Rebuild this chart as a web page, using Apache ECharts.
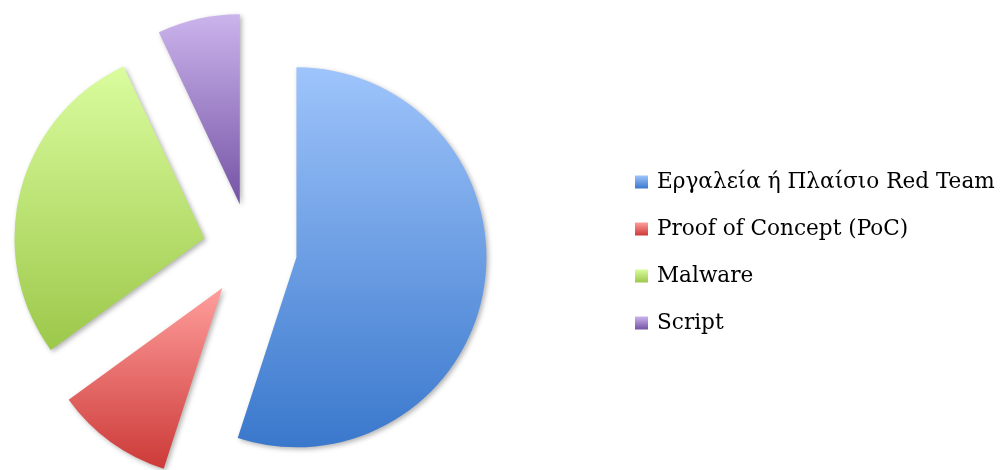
<!DOCTYPE html>
<html>
<head>
<meta charset="utf-8">
<script src="https://cdn.jsdelivr.net/npm/echarts@6/dist/echarts.min.js"></script>
<style>
  html, body { margin: 0; padding: 0; background: #fff; }
  #chart { width: 1001px; height: 470px; }
</style>
</head>
<body>
<div id="chart"></div>
<script>
const categories = ["Εργαλεία ή Πλαίσιο Red Team", "Proof of Concept (PoC)", "Malware", "Script"];
const values = [55, 10, 28, 7];
// top / bottom gradient colours per slice
const topColors = ["#9ec4fb", "#ff9e9c", "#dafc9e", "#cbb4ec"];
const bottomColors = ["#3a78cc", "#cc3a38", "#9cc84a", "#7553a5"];

const chart = echarts.init(document.getElementById("chart"), null, { renderer: "canvas" });

const grad = (i) => new echarts.graphic.LinearGradient(0, 0, 0, 1, [
  { offset: 0, color: topColors[i] },
  { offset: 1, color: bottomColors[i] },
]);

chart.setOption({
  animation: false,
  legend: {
    orient: "vertical",
    left: 635,
    top: 170,
    padding: 0,
    icon: "rect",
    itemWidth: 13,
    itemHeight: 13,
    itemGap: 23,
    selectedMode: false,
    data: categories,
    itemStyle: { shadowBlur: 0, shadowOffsetX: 0, shadowOffsetY: 0, shadowColor: "transparent" },
    textStyle: {
      fontFamily: "DejaVu Serif",
      fontSize: 21.6,
      lineHeight: 24,
      color: "#000",
      padding: [0, 0, 0, 4],
    },
  },
  series: [
    {
      type: "pie",
      center: [250, 250],
      radius: [0, 190],
      startAngle: 90,
      clockwise: true,
      selectedMode: "multiple",
      selectedOffset: 47,
      label: { show: false },
      labelLine: { show: false },
      emphasis: { disabled: true },
      itemStyle: {
        shadowBlur: 5,
        shadowOffsetX: 2,
        shadowOffsetY: 2,
        shadowColor: "rgba(0,0,0,0.3)",
      },
      data: categories.map((name, i) => ({
        name,
        value: values[i],
        selected: true,
        itemStyle: { color: grad(i) },
      })),
    },
  ],
});
</script>
</body>
</html>
